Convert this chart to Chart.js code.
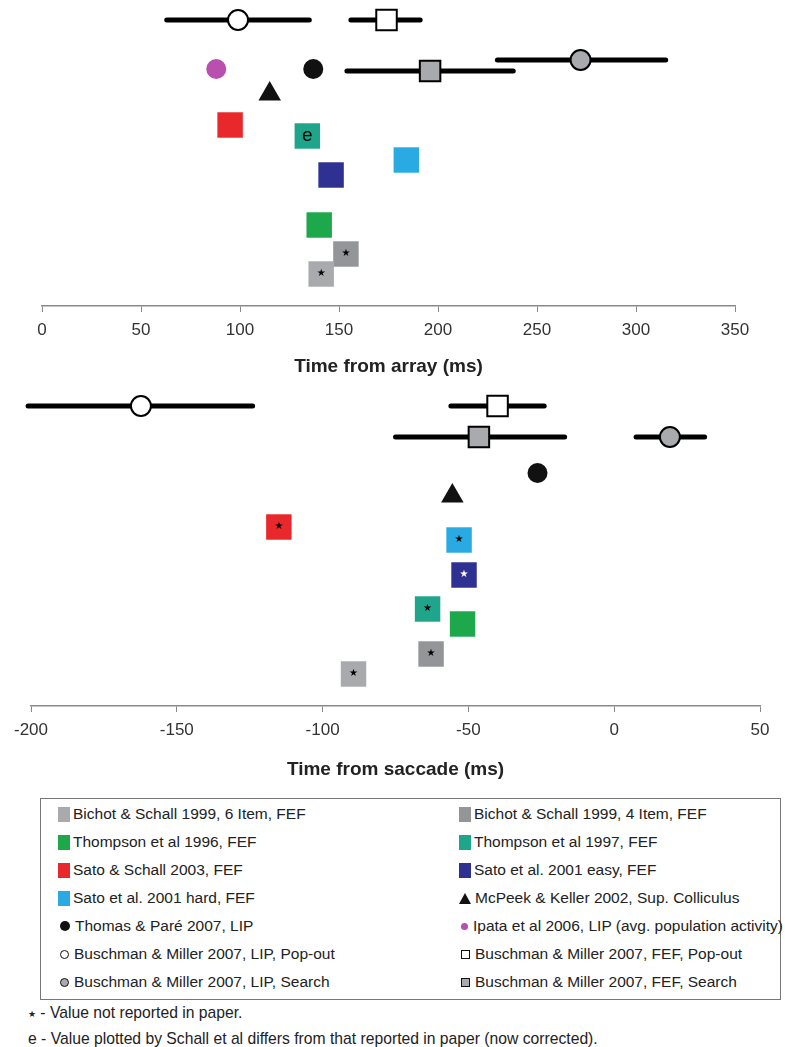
<!DOCTYPE html>
<html>
<head>
<meta charset="utf-8">
<script src="https://cdn.jsdelivr.net/npm/chart.js@4.4.1/dist/chart.umd.min.js"></script>
<style>
  body { margin: 0; background: #fff; width: 785px; height: 1047px; position: relative; overflow: hidden;
         font-family: "Liberation Sans", sans-serif; color: #222; }
  #topWrap { position: absolute; left: 0; top: 0; width: 785px; height: 385px; }
  #bottomWrap { position: absolute; left: 0; top: 385px; width: 785px; height: 405px; }
  #legend { position: absolute; left: 40px; top: 798px; width: 739px; height: 200px; border: 1px solid #777; }
  .item { position: absolute; display: flex; align-items: center; font-size: 15.5px; line-height: 18px; white-space: nowrap; }
  .mk { display: inline-block; width: 12px; height: 15px; margin-right: 3px; box-sizing: border-box; }
  .foot { position: absolute; left: 28px; font-size: 15.7px; white-space: nowrap; }
</style>
</head>
<body>
<div id="topWrap"><canvas id="arrayChart"></canvas></div>
<div id="bottomWrap"><canvas id="saccadeChart"></canvas></div>
<div id="legend"></div>
<div class="foot" style="top:1004px"><span style="font-size:9px;position:relative;top:-1px">★</span> - Value not reported in paper.</div>
<div class="foot" style="top:1030px">e - Value plotted by Schall et al differs from that reported in paper (now corrected).</div>

<script>
// series, in legend order
const seriesNames = [
  'Bichot & Schall 1999, 6 Item, FEF', 'Bichot & Schall 1999, 4 Item, FEF',
  'Thompson et al 1996, FEF', 'Thompson et al 1997, FEF',
  'Sato & Schall 2003, FEF', 'Sato et al. 2001 easy, FEF',
  'Sato et al. 2001 hard, FEF', 'McPeek & Keller 2002, Sup. Colliculus',
  'Thomas & Paré 2007, LIP', 'Ipata et al 2006, LIP (avg. population activity)',
  'Buschman & Miller 2007, LIP, Pop-out', 'Buschman & Miller 2007, FEF, Pop-out',
  'Buschman & Miller 2007, LIP, Search', 'Buschman & Miller 2007, FEF, Search'
];

// time from array (ms) + row position + error range
const arrayTimes = [141, 153.5, 140, 134, 95, 146, 184, 115, 137, 88, 99, 174, 272, 196];
const arrayRows  = [27.4, 25.4, 22.5, 13.6, 12.5, 17.5, 16.0, 9.4, 6.9, 6.9, 2.0, 2.0, 6.0, 7.1];
const arrayLo    = [null, null, null, null, null, null, null, null, null, null, 63, 156, 230, 154];
const arrayHi    = [null, null, null, null, null, null, null, null, null, null, 135, 191, 315, 238];
const arrayNotes = ['*', '*', '', 'e', '', '', '', '', '', '', '', '', '', ''];

// time from saccade (ms)
const saccadeTimes = [-89.4, -62.8, -52, -64, -115, -51.5, -53.2, -55.5, -26.3, null, -162.3, -40, 19.1, -46.4];
const saccadeRows  = [28.4, 26.4, 23.4, 21.9, 13.7, 18.5, 15.0, 10.6, 8.3, null, 1.6, 1.6, 4.7, 4.7];
const saccadeLo    = [null, null, null, null, null, null, null, null, null, null, -201, -56, 7.5, -75];
const saccadeHi    = [null, null, null, null, null, null, null, null, null, null, -124, -24, 31, -17];
const saccadeNotes = ['*', '*', '', '*', '*', '*', '*', '', '', '', '', '', '', ''];

const arrayTicks = [0, 50, 100, 150, 200, 250, 300, 350];
const saccadeTicks = [-200, -150, -100, -50, 0, 50];

// marker styles per series
const colors = ['#a8aaad', '#939598', '#1ea84c', '#1fa68a', '#e8282b', '#2e3192', '#2aaae2',
                '#111', '#111', '#b94faf', '#fff', '#fff', '#a8aaad', '#a8aaad'];
const shapes = ['rect', 'rect', 'rect', 'rect', 'rect', 'rect', 'rect',
                'triangle', 'circle', 'circle', 'circle', 'rect', 'circle', 'rect'];
const radii  = [18, 18, 18, 18, 18, 18, 18, 13, 10, 10, 10, 14.5, 10, 14.5];
const borders = [0, 0, 0, 0, 0, 0, 0, 0, 0, 0, 2, 2, 2, 2];

const notesPlugin = {
  id: 'notes',
  afterDatasetsDraw(chart) {
    const ctx = chart.ctx;
    chart.data.datasets.forEach((ds, i) => {
      if (!ds.note) return;
      chart.getDatasetMeta(i).data.forEach(pt => {
        ctx.save();
        ctx.fillStyle = ds.noteColor;
        ctx.textAlign = 'center';
        ctx.textBaseline = 'middle';
        if (ds.note === 'e') {
          ctx.font = '19px "Liberation Sans"';
          ctx.fillText('e', pt.x, pt.y);
        } else {
          ctx.font = '10px "DejaVu Sans"';
          ctx.fillText('★', pt.x, pt.y - 1);
        }
        ctx.restore();
      });
    });
  }
};

function buildDatasets(times, rows, lo, hi, notes) {
  const sets = [];
  seriesNames.forEach((name, i) => {
    if (times[i] == null) return;
    sets.push({
      label: name,
      data: [{ x: times[i], y: rows[i] }],
      pointStyle: shapes[i],
      pointRadius: radii[i],
      backgroundColor: colors[i],
      borderColor: '#000',
      borderWidth: borders[i],
      note: notes[i],
      noteColor: i === 5 ? '#fff' : '#000',
      clip: false,
      order: 0
    });
    if (lo[i] != null) {
      sets.push({
        label: name + ' range',
        data: [{ x: lo[i], y: rows[i] }, { x: hi[i], y: rows[i] }],
        showLine: true,
        borderColor: '#000',
        borderWidth: 5,
        borderCapStyle: 'round',
        pointRadius: 0,
        clip: false,
        order: 1
      });
    }
  });
  return sets;
}

function makeChart(id, times, rows, lo, hi, notes, ticks, yMax, title, pad, titlePadTop) {
  return new Chart(document.getElementById(id), {
    type: 'scatter',
    data: { datasets: buildDatasets(times, rows, lo, hi, notes) },
    options: {
      responsive: true,
      maintainAspectRatio: false,
      animation: false,
      layout: { padding: pad, autoPadding: false },
      plugins: { legend: { display: false }, tooltip: { enabled: false } },
      scales: {
        x: {
          type: 'linear',
          min: ticks[0],
          max: ticks[ticks.length - 1],
          afterBuildTicks: axis => { axis.ticks = ticks.map(v => ({ value: v })); },
          grid: { drawOnChartArea: false, drawTicks: true, tickLength: 6, color: '#8a8a8a' },
          border: { color: '#8a8a8a', width: 1.5 },
          ticks: { color: '#333', padding: 8, maxRotation: 0,
                   font: { family: '"Liberation Sans"', size: 17 } },
          title: { display: true, text: title, color: '#222', padding: { top: titlePadTop, bottom: 4 },
                   font: { family: '"Liberation Sans"', size: 19, weight: 'bold' } }
        },
        y: { type: 'linear', display: false, reverse: true, min: 0, max: yMax }
      }
    },
    plugins: [notesPlugin]
  });
}

makeChart('arrayChart', arrayTimes, arrayRows, arrayLo, arrayHi, arrayNotes, arrayTicks, 30.6,
          'Time from array (ms)', { left: 42, right: 50, top: 0, bottom: 2.6 }, 7.2);
makeChart('saccadeChart', saccadeTimes, saccadeRows, saccadeLo, saccadeHi, saccadeNotes, saccadeTicks, 31.6,
          'Time from saccade (ms)', { left: 31, right: 25, top: 5, bottom: 4.6 }, 10.2);

// legend
const legend = document.getElementById('legend');
seriesNames.forEach((name, i) => {
  const col = i % 2, row = Math.floor(i / 2);
  const item = document.createElement('div');
  item.className = 'item';
  item.style.left = (col ? 418 : 17) + 'px';
  item.style.top = (6 + row * 28) + 'px';
  const mk = document.createElement('span');
  mk.className = 'mk';
  if (shapes[i] === 'rect' && !borders[i]) {
    mk.style.background = colors[i];
  } else if (shapes[i] === 'triangle') {
    mk.style.cssText = 'width:0;height:0;border-left:6px solid transparent;border-right:6px solid transparent;border-bottom:11px solid #111;margin-right:4px';
  } else if (shapes[i] === 'circle') {
    const d = borders[i] ? 9 : (i === 9 ? 7 : 10);
    mk.style.cssText = `width:${d}px;height:${d}px;border-radius:50%;margin:0 5px 0 2px;box-sizing:border-box;background:${colors[i]};border:${borders[i] ? '1.5px solid #111' : 'none'}`;
  } else {
    mk.style.cssText = `width:9px;height:9px;margin:0 5px 0 2px;box-sizing:border-box;background:${colors[i]};border:1.5px solid #111`;
  }
  item.appendChild(mk);
  item.appendChild(document.createTextNode(name));
  legend.appendChild(item);
});
</script>
</body>
</html>
